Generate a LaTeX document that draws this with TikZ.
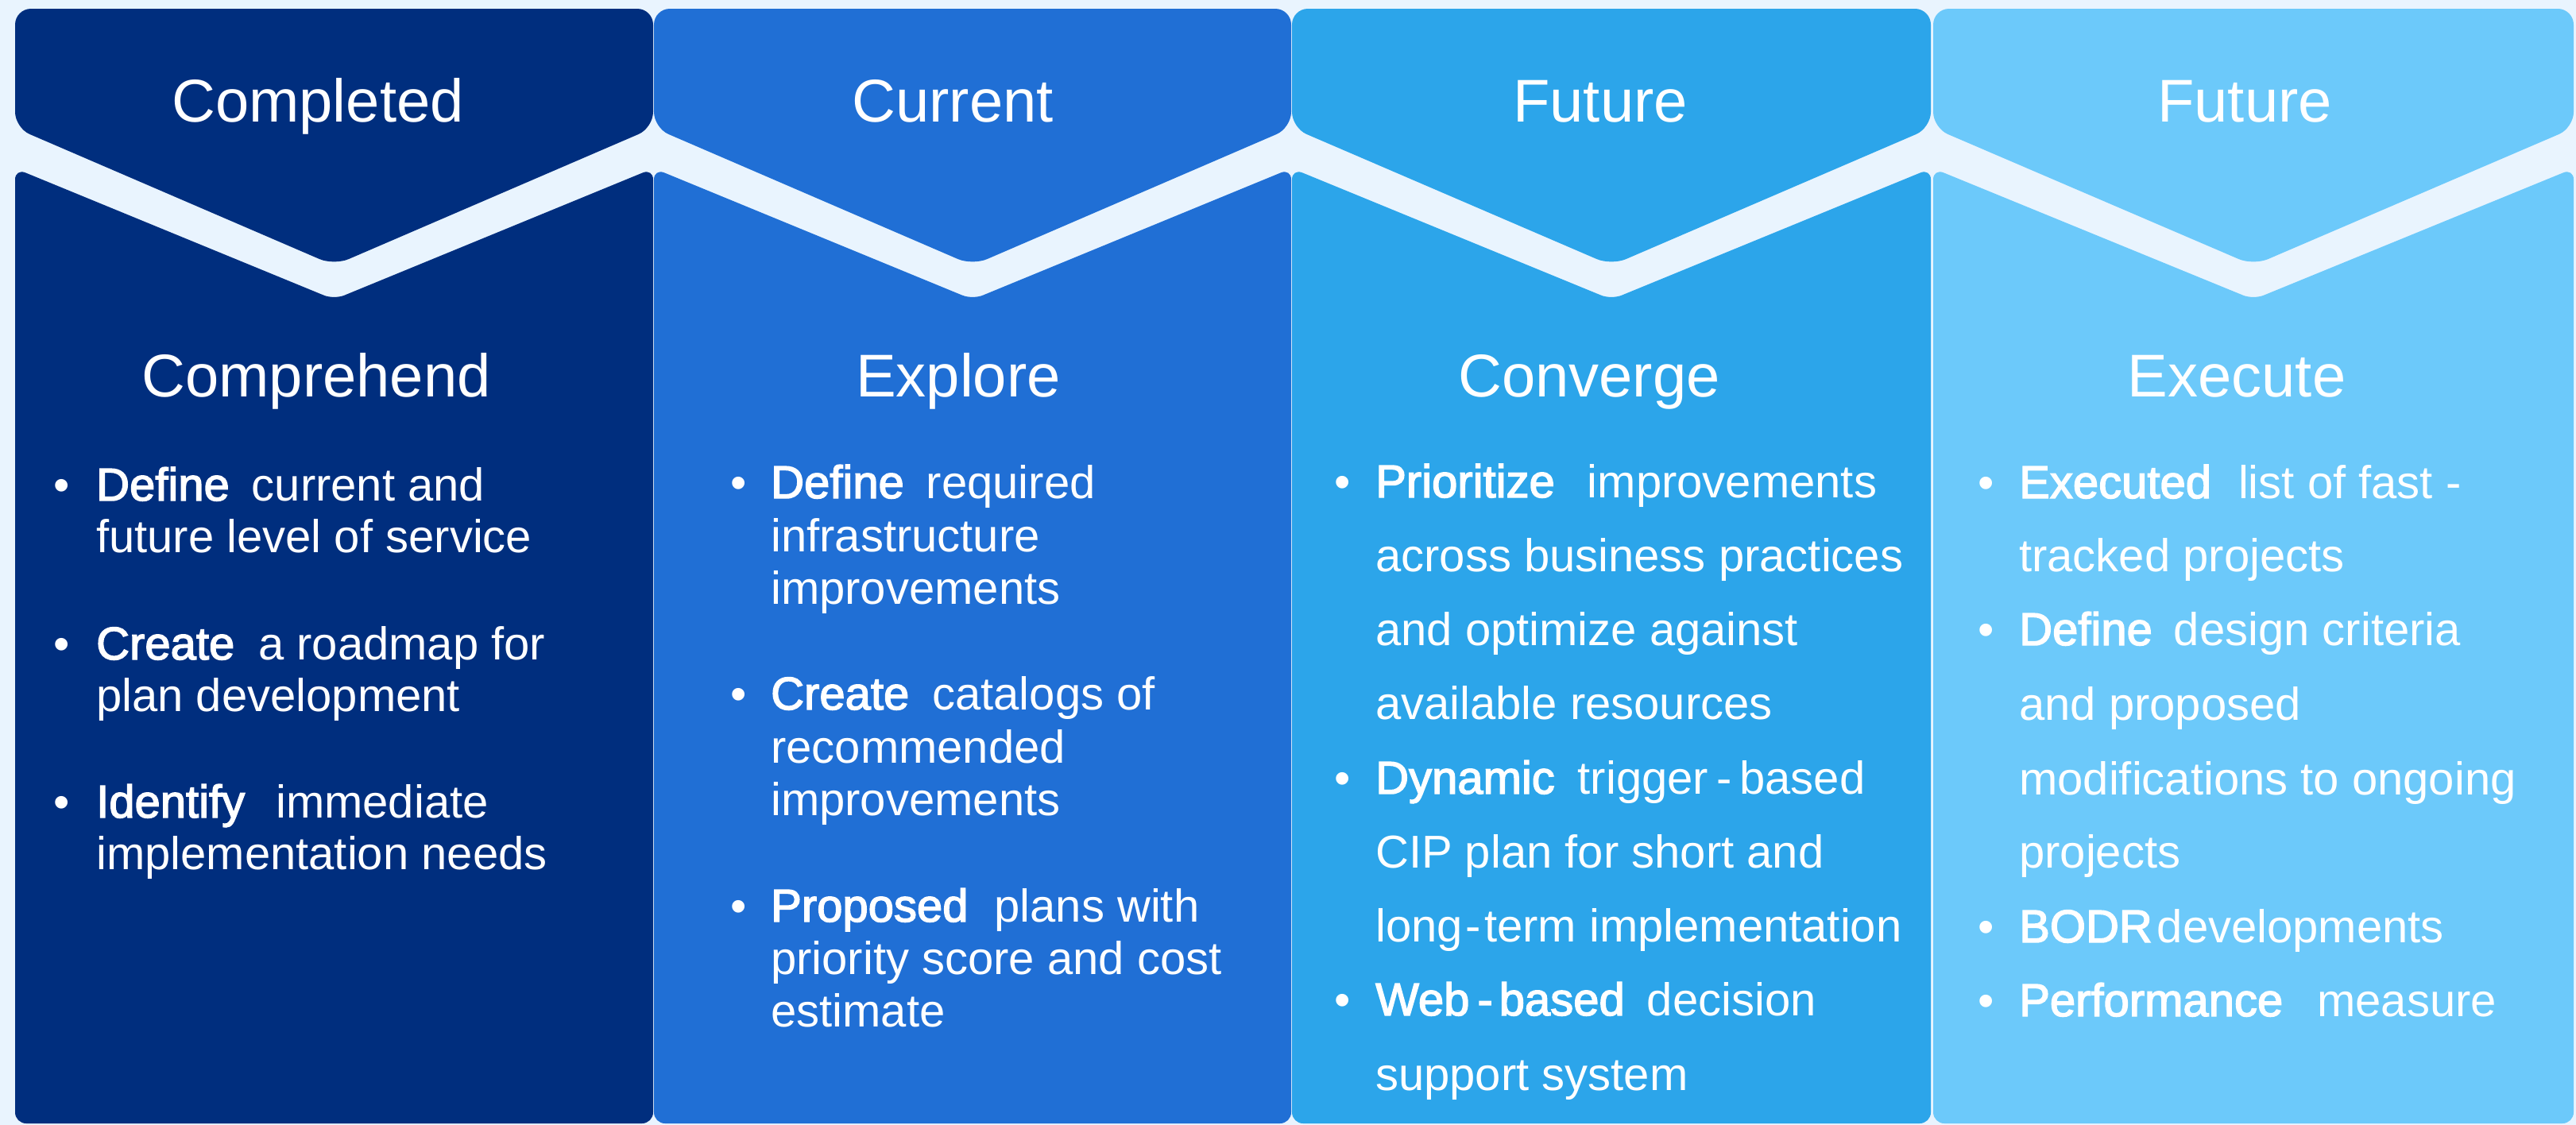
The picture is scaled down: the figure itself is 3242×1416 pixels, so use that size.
\documentclass[tikz,border=0pt]{standalone}
\usepackage{fontspec}
\setmainfont{Liberation Sans}
\newfontfamily\fb[FakeBold=2.5]{Liberation Sans}
\definecolor{bg}{RGB}{233,244,254}
\definecolor{cA}{RGB}{0,46,126}
\definecolor{cB}{RGB}{32,111,213}
\definecolor{cC}{RGB}{44,165,234}
\definecolor{cD}{RGB}{108,201,250}
\newcommand{\stageshape}[3]{%
  \pgfmathsetmacro{\xm}{(#1+#2)/2}%
  \fill[#3, rounded corners=20pt] (\xm,11) -- (#2,11) -- (#2,161) -- (\xm,334) -- (#1,161) -- (#1,11) -- cycle;
  \fill[#3, rounded corners=14pt] (\xm,1414) -- (#1,1414) -- (#1,212) -- (\xm,377) -- (#2,212) -- (#2,1414) -- cycle;
}
\tikzset{
  ttl/.style={text=white, inner sep=0pt, anchor=base, font=\fontsize{76}{90}\selectfont},
  bl/.style={text=white, inner sep=0pt, anchor=base west, font=\fontsize{58}{70}\selectfont},
  dot/.style={text=white, inner sep=0pt, anchor=base, font=\fontsize{58}{70}\selectfont},
}
\begin{document}
\begin{tikzpicture}[x=1pt,y=-1pt]
\useasboundingbox (0,0) rectangle (3242,1416);
\fill[bg] (0,0) rectangle (3242,1416);
\stageshape{19}{822}{cA}
\stageshape{823}{1625}{cB}
\stageshape{1626}{2430}{cC}
\stageshape{2433}{3239}{cD}
% header titles
\node[ttl] (h1) at (400,153) {Completed};
\node[ttl] (h2) at (1199,153) {Current};
\node[ttl] (h3) at (2014,153) {Future};
\node[ttl] (h4) at (2825,153) {Future};
% stage names
\node[ttl] (s1) at (398,499) {Comprehend};
\node[ttl] (s2) at (1206,499) {Explore};
\node[ttl] (s3) at (2000,499) {Converge};
\node[ttl] (s4) at (2815,499) {Execute};
% column 1
\node[dot] (b1a) at (78,630) {•};
\node[bl] (l1a) at (121,630) {{\fb Define}\hspace{28pt}current and};
\node[bl] (l1b) at (121,695) {future level of service};
\node[dot] (b1b) at (78,830) {•};
\node[bl] (l1c) at (121,830) {{\fb Create}\hspace{30pt}a roadmap for};
\node[bl] (l1d) at (121,895) {plan development};
\node[dot] (b1c) at (78,1029) {•};
\node[bl] (l1e) at (121,1029) {{\fb Identify}\hspace{39pt}immediate};
\node[bl] (l1f) at (121,1094) {implementation needs};
% column 2
\node[dot] (b2a) at (930,627) {•};
\node[bl] (l2a) at (970,627) {{\fb Define}\hspace{28pt}required};
\node[bl] (l2b) at (970,694) {infrastructure};
\node[bl] (l2c) at (970,760) {improvements};
\node[dot] (b2b) at (930,893) {•};
\node[bl] (l2d) at (970,893) {{\fb Create}\hspace{29pt}catalogs of};
\node[bl] (l2e) at (970,960) {recommended};
\node[bl] (l2f) at (970,1026) {improvements};
\node[dot] (b2c) at (930,1160) {•};
\node[bl] (l2g) at (970,1160) {{\fb Proposed}\hspace{33pt}plans with};
\node[bl] (l2h) at (970,1226) {priority score and cost};
\node[bl] (l2i) at (970,1292) {estimate};
% column 3
\node[dot] (b3a) at (1690,626) {•};
\node[bl] (l3a) at (1731,626) {{\fb Prioritize}\hspace{41pt}improvements};
\node[bl] (l3b) at (1731,719) {across business practices};
\node[bl] (l3c) at (1731,812) {and optimize against};
\node[bl] (l3d) at (1731,905) {available resources};
\node[dot] (b3b) at (1690,999) {•};
\node[bl] (l3e) at (1731,999) {{\fb Dynamic}\hspace{29pt}trigger\hspace{10pt}-\hspace{10pt}based};
\node[bl] (l3f) at (1731,1092) {CIP plan for short and};
\node[bl] (l3g) at (1731,1185) {long\hspace{4pt}-\hspace{4pt}term implementation};
\node[dot] (b3c) at (1690,1278) {•};
\node[bl] (l3h) at (1731,1278) {{\fb Web\hspace{10pt}-\hspace{8pt}based}\hspace{28pt}decision};
\node[bl] (l3i) at (1731,1372) {support system};
% column 4
\node[dot] (b4a) at (2500,627) {•};
\node[bl] (l4a) at (2541,627) {{\fb Executed}\hspace{34pt}list of fast -};
\node[bl] (l4b) at (2541,719) {tracked projects};
\node[dot] (b4b) at (2500,812) {•};
\node[bl] (l4c) at (2541,812) {{\fb Define}\hspace{27pt}design criteria};
\node[bl] (l4d) at (2541,906) {and proposed};
\node[bl] (l4e) at (2541,1000) {modifications to ongoing};
\node[bl] (l4f) at (2541,1092) {projects};
\node[dot] (b4c) at (2500,1186) {•};
\node[bl] (l4g) at (2541,1186) {{\fb BODR}\hspace{6pt}developments};
\node[dot] (b4d) at (2500,1279) {•};
\node[bl] (l4h) at (2541,1279) {{\fb Performance}\hspace{43pt}measure};
\end{tikzpicture}
\end{document}
